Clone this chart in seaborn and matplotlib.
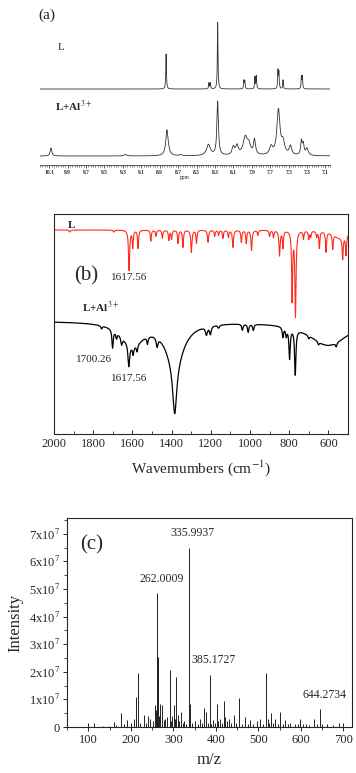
import numpy as np
import pandas as pd
import matplotlib
matplotlib.use("Agg")
import matplotlib.pyplot as plt
from matplotlib.ticker import MultipleLocator, FixedLocator
import seaborn as sns

# ---------------- data ----------------
# (a) 1H NMR peak lists: position (ppm), height (a.u.), half width (ppm)
nmr_L_ppm = [8.83, 8.365, 8.35, 8.27, 7.985, 7.975, 7.865, 7.85, 7.615, 7.605, 7.56, 7.36, 7.35]
nmr_L_height = [35, 6, 6, 67, 8, 8, 12, 13, 18, 16, 9, 12, 12]
nmr_L_width = 0.004
nmr_L_offset = 67

nmr_Al_ppm = [10.08, 9.27, 8.82, 8.67, 8.37, 8.27, 8.10, 8.06, 7.97, 7.93, 7.87, 7.69,
              7.61, 7.56, 7.48, 7.36, 7.34, 7.30]
nmr_Al_height = [8, 1.5, 26, 1, 11, 54, 8, 9, 18, 9, 15, 8, 45, 12, 9, 14, 10, 7]
nmr_Al_width = [0.01, 0.015, 0.016, 0.015, 0.025, 0.01, 0.016, 0.016, 0.028, 0.02, 0.013,
                0.02, 0.02, 0.02, 0.016, 0.01, 0.01, 0.016]
nmr_ticks = [10.1, 9.9, 9.7, 9.5, 9.3, 9.1, 8.9, 8.7, 8.5, 8.3, 8.1, 7.9, 7.7, 7.5, 7.3, 7.1]

# (b) IR bands: wavenumber (cm-1), depth (a.u.), half width (cm-1)
ir_L_base = 204
ir_L_wn = [1919, 1695, 1617, 1598, 1571, 1506, 1480, 1447, 1414, 1400, 1367, 1342, 1299,
           1273, 1214, 1180, 1160, 1138, 1110, 1087, 1044, 1019, 992, 960, 900, 880, 849,
           832, 785, 768, 727, 700, 690, 660, 646, 612, 578, 540, 527, 510]
ir_L_depth = [2, 2, 40, 17, 18, 11, 6, 8, 10, 9, 13, 17, 22, 13, 12, 6, 5, 8, 7, 17, 12,
              13, 20, 5, 6, 7, 25, 17, 69, 85, 8, 8, 6, 6, 17, 20, 15, 8, 22, 20]
ir_L_width = [4, 4, 3.5, 3, 3, 3, 3, 3, 3, 3, 3, 3, 3.5, 3, 3.5, 3, 3, 3, 3, 3.5, 3, 3,
              3.5, 3, 3, 3, 3.5, 3, 3, 3.5, 3, 3, 3, 3, 3, 3, 3, 40, 3, 3]

ir_LAl_base = 113
ir_LAl_wn = [1757, 1701, 1681, 1655, 1618, 1596, 1576, 1523, 1474, 1384, 1222, 1202, 1160,
             1039, 1009, 983, 832, 815, 798, 769, 700, 650, 560, 1600, 1384, 600]
ir_LAl_depth = [3, 18, 6, 8, 22, 8, 7, 7, 9, 50, 8, 8, 3, 6, 8, 6, 10, 8, 30, 45, 3, 3, 4,
                22, 40, 24]
ir_LAl_width = [4, 4, 4, 5, 5, 4, 4, 4, 5, 12, 6, 5, 5, 4, 4, 4, 4, 4, 4, 4, 4, 4, 4,
                70, 55, 120]

# (c) mass spectrum: m/z and intensity (x10^7)
ms_mz = [99.5, 112.7, 135, 148, 159.7, 166, 177, 184, 191, 201, 206.7, 211.4, 216, 222,
         230, 235, 239.6, 246, 251, 256, 258.5, 261, 262.0009, 263, 266, 269.5, 273.5,
         277, 281, 286, 291.3, 294, 297, 300.7, 303, 306.4, 310, 314, 318.8, 322, 325.8,
         330, 335.9937, 340, 345, 351.8, 357, 363.5, 368, 373, 377, 381, 385.1727, 389,
         393, 398, 402.8, 406, 410.5, 414, 418.3, 422, 426, 430, 436, 441.8, 448, 455,
         462, 469, 475, 481, 488, 496.8, 504.6, 511, 518.7, 521.7, 526, 530.4, 535, 540,
         546, 551.6, 557, 563.4, 569, 575, 585, 592, 598.7, 605, 611, 620, 630, 637,
         644.2734, 650, 661, 675, 688.6, 700]
ms_int = [0.13, 0.13, 0.05, 0.05, 0.17, 0.08, 0.5, 0.1, 0.25, 0.15, 0.3, 1.1, 1.95, 0.15,
          0.45, 0.15, 0.4, 0.3, 0.2, 0.8, 0.6, 2.8, 4.85, 2.55, 0.4, 0.85, 0.8,
          0.25, 0.3, 0.35, 2.05, 0.2, 0.4, 0.8, 0.3, 1.8, 0.45, 0.2, 0.55, 0.15, 0.2,
          0.12, 6.5, 0.85, 0.15, 0.2, 0.12, 0.3, 0.15, 0.7, 0.55, 0.15, 1.9, 0.12,
          0.25, 0.15, 0.85, 0.2, 0.3, 0.15, 0.95, 0.35, 0.2, 0.3, 0.15, 0.45, 0.15, 1.05,
          0.12, 0.35, 0.12, 0.25, 0.12, 0.2, 0.3, 0.12, 1.95, 0.3, 0.15, 0.5, 0.15, 0.3,
          0.12, 0.55, 0.1, 0.25, 0.1, 0.15, 0.1, 0.1, 0.3, 0.1, 0.12, 0.08, 0.3, 0.1,
          0.65, 0.1, 0.1, 0.08, 0.15, 0.15]
ms_labels = {262.0009: "262.0009", 335.9937: "335.9937", 385.1727: "385.1727", 644.2734: "644.2734"}
ms_yticks = [0, 1, 2, 3, 4, 5, 6, 7]


def lorentz(x, pos, height, width):
    pos = np.asarray(pos, float)[:, None]
    height = np.asarray(height, float)[:, None]
    width = np.broadcast_to(np.asarray(width, float), pos.shape[:1])[:, None]
    return (height / (1 + ((x[None, :] - pos) / width) ** 2)).sum(axis=0)


sns.set_style("ticks")
plt.rcParams["font.family"] = ["Liberation Serif", "DejaVu Serif"]
plt.rcParams["mathtext.fontset"] = "stix"

W, H = 356, 773
fig = plt.figure(figsize=(W / 100, H / 100), dpi=100)


def px_axes(left, top, right, bottom):
    return fig.add_axes([left / W, 1 - bottom / H, (right - left) / W, (bottom - top) / H])


# ---------------- (a) NMR ----------------
ax_a = px_axes(40, 18, 330, 165)
ppm = np.linspace(7.05, 10.2, 6000)
nmr = pd.DataFrame({
    "ppm": ppm,
    "L": nmr_L_offset + lorentz(ppm, nmr_L_ppm, nmr_L_height, nmr_L_width),
    "LAl": lorentz(ppm, nmr_Al_ppm, nmr_Al_height, nmr_Al_width),
})
sns.lineplot(data=nmr, x="ppm", y="L", ax=ax_a, color="#333333", linewidth=0.6,
             estimator=None, sort=False)
sns.lineplot(data=nmr, x="ppm", y="LAl", ax=ax_a, color="#333333", linewidth=0.6,
             estimator=None, sort=False)
ax_a.set_xlim(10.2, 7.05)
ax_a.set_ylim(-9, 138)
sns.despine(ax=ax_a, left=True)
ax_a.spines["bottom"].set_linewidth(0.5)
ax_a.set_yticks([])
ax_a.xaxis.set_major_locator(FixedLocator(nmr_ticks))
ax_a.set_xticklabels([f"{t:.1f}" for t in nmr_ticks], fontsize=4, fontweight="bold")
ax_a.xaxis.set_minor_locator(MultipleLocator(0.025))
ax_a.tick_params(axis="x", which="major", direction="out", length=2, width=0.5, pad=1.5)
ax_a.tick_params(axis="x", which="minor", direction="out", length=1.2, width=0.4)
ax_a.set_xlabel("ppm", fontsize=4, labelpad=0)
ax_a.set_ylabel("")
fig.text(58 / W, 1 - 47 / H, "L", fontsize=8, va="center")
fig.text(55 / W, 1 - 106 / H, "L+Al$^{3+}$", fontsize=8, va="center", fontweight="bold")
fig.text(38 / W, 1 - 15 / H, "(a)", fontsize=11, va="center")

# ---------------- (b) IR ----------------
ax_b = px_axes(54, 214, 348, 434)
wn = np.arange(500, 2000.5, 0.5)
ir = pd.DataFrame({
    "wn": wn,
    "L": ir_L_base - lorentz(wn, ir_L_wn, ir_L_depth, ir_L_width),
    "LAl": ir_LAl_base - lorentz(wn, ir_LAl_wn, ir_LAl_depth, ir_LAl_width),
})
sns.lineplot(data=ir, x="wn", y="L", ax=ax_b, color="#ff2a1a", linewidth=0.8,
             estimator=None, sort=False)
sns.lineplot(data=ir, x="wn", y="LAl", ax=ax_b, color="black", linewidth=0.9,
             estimator=None, sort=False)
ax_b.set_xlim(2000, 500)
ax_b.set_ylim(0, 220)
ax_b.set_yticks([])
ax_b.set_ylabel("")
ax_b.xaxis.set_minor_locator(MultipleLocator(100))
ax_b.set_xticks(np.arange(600, 2001, 200))
ax_b.tick_params(axis="x", which="major", direction="in", length=3, width=0.7, labelsize=9, pad=3)
ax_b.tick_params(axis="x", which="minor", direction="in", length=2, width=0.6)
for s in ax_b.spines.values():
    s.set_linewidth(0.8)
ax_b.set_xlabel("Wavemumbers (cm$^{-1}$)", fontsize=11, labelpad=6)
ax_b.text(1930, 204, "L", fontsize=8, fontweight="bold", va="bottom")
ax_b.text(1895, 158, "(b)", fontsize=15, va="center")
ax_b.text(1617, 157, "1617.56", fontsize=8, ha="center", va="center")
ax_b.text(1855, 119, "L+Al$^{3+}$", fontsize=8, fontweight="bold", va="bottom")
ax_b.text(1705, 75, "1700.26", fontsize=8, ha="right", va="center")
ax_b.text(1617, 56, "1617.56", fontsize=8, ha="center", va="center")

# ---------------- (c) MS ----------------
ax_c = px_axes(67, 518, 352, 727)
ms = pd.DataFrame({"mz": ms_mz, "intensity": np.array(ms_int) * 1e7})
ax_c.vlines(ms["mz"], 0, ms["intensity"], color="#222222", linewidth=0.7)
ax_c.set_xlim(50, 720)
ax_c.set_ylim(0, 7.57e7)
ax_c.set_yticks([v * 1e7 for v in ms_yticks])
ax_c.set_yticklabels(["0"] + [f"{v}x10$^7$" for v in ms_yticks[1:]], fontsize=9)
ax_c.yaxis.set_minor_locator(MultipleLocator(0.5e7))
ax_c.xaxis.set_major_locator(MultipleLocator(100))
ax_c.xaxis.set_minor_locator(MultipleLocator(50))
ax_c.tick_params(axis="both", which="major", direction="out", length=3, width=0.7, labelsize=9, pad=2)
ax_c.tick_params(axis="both", which="minor", direction="out", length=2, width=0.6)
for s in ax_c.spines.values():
    s.set_linewidth(0.8)
ax_c.set_xlabel("m/z", fontsize=12, labelpad=4)
ax_c.set_ylabel("Intensity", fontsize=12, labelpad=4)
for mz, txt in ms_labels.items():
    y = ms.loc[ms["mz"] == mz, "intensity"].iloc[0]
    ax_c.text(mz + 10, y + 0.3e7, txt, fontsize=8.5, ha="center", va="bottom")
ax_c.text(80, 6.6e7, "(c)", fontsize=15, va="center")

fig.savefig("out.png", dpi=100)
